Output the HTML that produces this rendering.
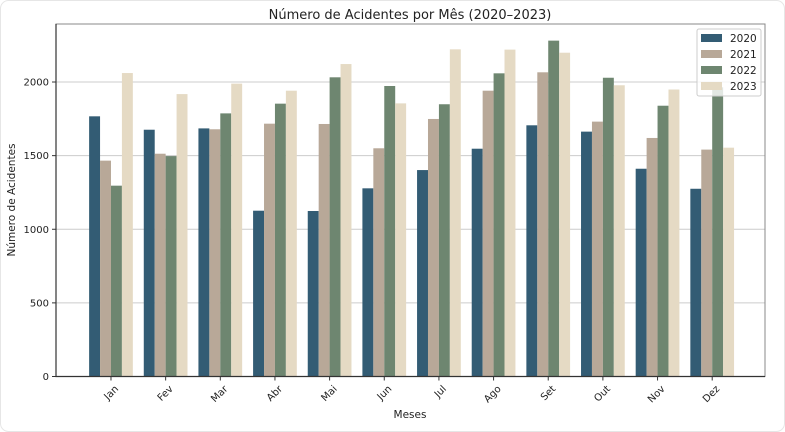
<!DOCTYPE html>
<html><head><meta charset="utf-8"><style>
body{margin:0;background:#fff;}
svg{display:block;font-family:"DejaVu Sans","Liberation Sans",sans-serif;}
</style></head><body>
<svg id="chart" width="785" height="432">
<rect x="0.5" y="0.5" width="784" height="431" rx="8" fill="#fff" stroke="#e6e6e6"/>
<text x="410" y="19" text-anchor="middle" font-size="13" fill="#222">Número de Acidentes por Mês (2020–2023)</text>
<g id="grid"></g><g id="bars"></g><g id="axes"></g>
<text x="410" y="418" text-anchor="middle" font-size="10.5" fill="#222">Meses</text>
<text transform="translate(15,200) rotate(-90)" text-anchor="middle" font-size="10.5" fill="#222">Número de Acidentes</text>
<g id="legend"></g>
</svg>
<script>
const months=["Jan","Fev","Mar","Abr","Mai","Jun","Jul","Ago","Set","Out","Nov","Dez"];
const years=["2020","2021","2022","2023"];
const v2020=[1767,1676,1685,1126,1124,1278,1402,1547,1706,1663,1411,1275];
const v2021=[1466,1513,1679,1717,1715,1550,1749,1941,2066,1731,1620,1541];
const v2022=[1296,1497,1787,1853,2032,1973,1849,2059,2281,2029,1839,1964];
const v2023=[2061,1918,1989,1941,2122,1855,2222,2220,2199,1978,1949,1554];
const yTicks=[0,500,1000,1500,2000];
const series=[v2020,v2021,v2022,v2023];
const colors=["#335c74","#b8a898","#6e8670","#e5dac4"];
const L=56,R=765,T=24,B=376.5,YMAX=2394,XMIN=-1.006,XMAX=11.966;
const sx=x=>L+(x-XMIN)/(XMAX-XMIN)*(R-L);
const sy=v=>B-v/YMAX*(B-T);
const NS="http://www.w3.org/2000/svg";
function mk(tag,attrs,parent){const e=document.createElementNS(NS,tag);for(const k in attrs)e.setAttribute(k,attrs[k]);parent.appendChild(e);return e;}
const grid=document.getElementById('grid'),bars=document.getElementById('bars'),axes=document.getElementById('axes'),leg=document.getElementById('legend');
yTicks.forEach(t=>{
 const y=sy(t);
 const g=mk('line',{x1:L,x2:R,y1:y,y2:y,stroke:"#cccccc","stroke-width":1},grid);
 
 
 const tk=mk('line',{x1:L-4,x2:L,y1:y,y2:y,stroke:"#333"},axes);
 
 
 const tx=mk('text',{x:L-7,y:y+3.5,"text-anchor":"end","font-size":10,fill:"#222"},axes);
 tx.textContent=t;
 
 
});
const bw=sx(0.2)-sx(0);
series.forEach((s,si)=>{
 s.forEach((v,i)=>{
  const x=sx(i+(si-1.5)*0.2)-bw/2;
  const r=mk('rect',{x:x,y:sy(v),width:bw,height:B-sy(v),fill:colors[si]},bars);
  
  
 });
});
months.forEach((m,i)=>{
 const x=sx(i);
 const tk=mk('line',{x1:x,x2:x,y1:B,y2:B+4,stroke:"#333"},axes);
 
 
 const tx=mk('text',{transform:`translate(${x+3},${B+8}) rotate(-45)`,"text-anchor":"end","font-size":10,fill:"#222",dy:"0.7em"},axes);
 tx.textContent=m;
 
 
});
const fr=mk('rect',{x:L,y:T,width:R-L,height:B-T,fill:"none",stroke:"#888","stroke-width":1},axes);


const bl=mk('path',{d:`M${L},${T} V${B} H${R}`,fill:"none",stroke:"#333","stroke-width":1.2},axes);


const lb=mk('rect',{x:697,y:29,width:64,height:67,rx:2,fill:"#fff","fill-opacity":0.8,stroke:"#ccc"},leg);


years.forEach((y,i)=>{
 const sw=mk('rect',{x:701,y:34+i*16,width:21,height:8,fill:colors[i]},leg);
 
 
 const t=mk('text',{x:730,y:42+i*16,"font-size":10.5,fill:"#222"},leg);
 t.textContent=y;
 
 
});
</script>
</body></html>
